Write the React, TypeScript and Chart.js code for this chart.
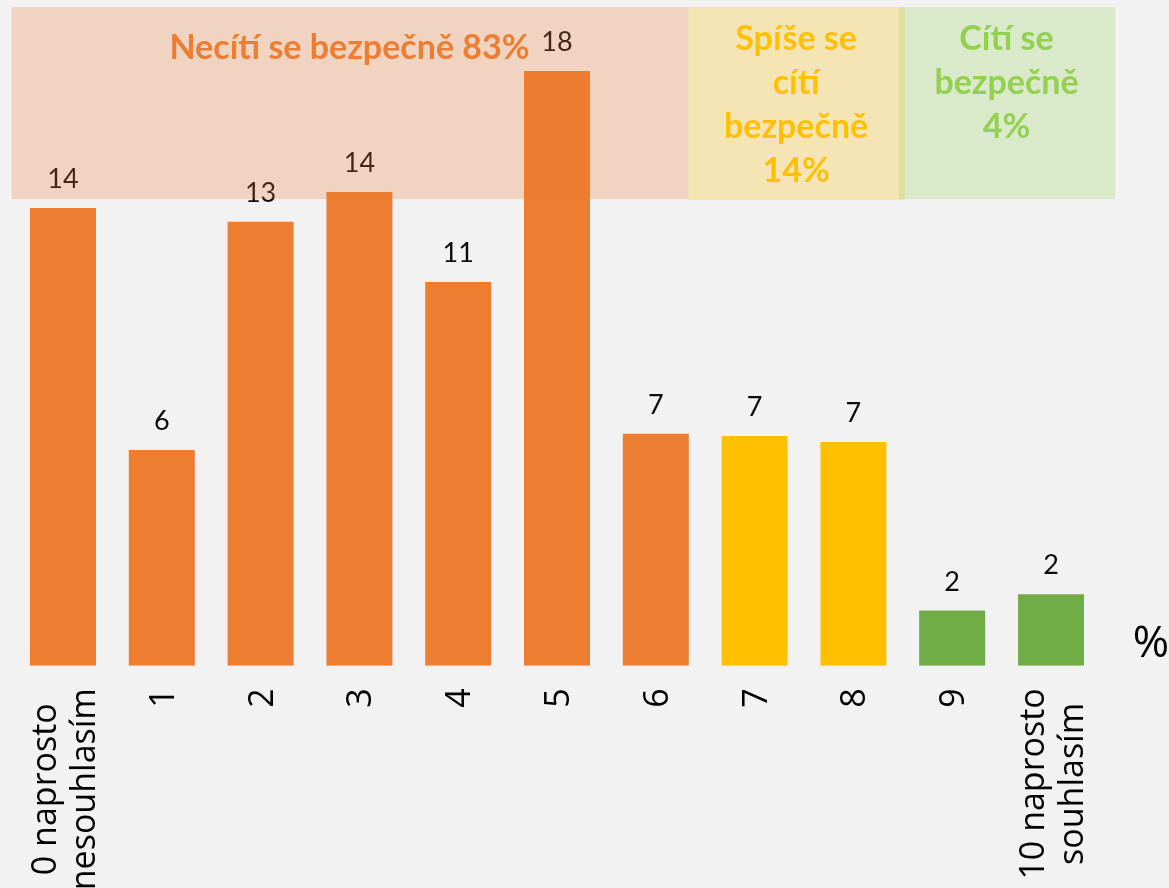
import React, { useEffect, useRef } from "react";
import { Chart, registerables } from "chart.js";

Chart.register(...registerables);

// ---- data ----
const categories: (string | string[])[] = [
  ["0 naprosto", "nesouhlasím"],
  "1",
  "2",
  "3",
  "4",
  "5",
  "6",
  "7",
  "8",
  "9",
  ["10 naprosto", "souhlasím"],
];
const values = [13.62, 6.42, 13.21, 14.1, 11.42, 17.7, 6.9, 6.84, 6.66, 1.64, 2.13];
const valueLabels = ["14", "6", "13", "14", "11", "18", "7", "7", "7", "2", "2"];
const groups = ["neg", "neg", "neg", "neg", "neg", "neg", "neg", "mid", "mid", "pos", "pos"];
const negTitle = ["Necítí se bezpečně 83%"];
const midTitle = ["Spíše se", "cítí", "bezpečně", "14%"];
const posTitle = ["Cítí se", "bezpečně", "4%"];
const unitLabel = "%";

const barColors: Record<string, string> = {
  neg: "#ED7D31",
  mid: "#FFC000",
  pos: "#70AD47",
};

const overlayPlugin = {
  id: "overlay",
  afterDatasetsDraw(chart: any) {
    const ctx = chart.ctx;
    const meta = chart.getDatasetMeta(0);
    ctx.save();
    ctx.font = "27px Lato";
    ctx.fillStyle = "#0d0d0d";
    ctx.textAlign = "center";
    ctx.textBaseline = "alphabetic";
    meta.data.forEach((bar: any, i: number) => {
      ctx.fillText(valueLabels[i], bar.x, bar.y - 20);
    });
    ctx.restore();
  },
  afterDraw(chart: any) {
    const ctx = chart.ctx;
    const xs = chart.scales.x;
    const px = (v: number) =>
      xs.getPixelForValue(0) + v * (xs.getPixelForValue(1) - xs.getPixelForValue(0));

    // category labels (rotated, lines centred within a block that ends near the axis)
    ctx.save();
    ctx.font = "34px 'Open Sans'";
    ctx.fillStyle = "#000";
    ctx.textAlign = "center";
    ctx.textBaseline = "alphabetic";
    const axisY = chart.chartArea.bottom + 22.5;
    categories.forEach((lab, i) => {
      const lines = Array.isArray(lab) ? lab : [lab];
      const maxW = Math.max(...lines.map((l) => ctx.measureText(l).width));
      const yc = axisY + maxW / 2;
      const cx = xs.getPixelForValue(i);
      lines.forEach((l, j) => {
        const bx = cx + 12 + (j - (lines.length - 1) / 2) * 39;
        ctx.save();
        ctx.translate(bx, yc);
        ctx.rotate(-Math.PI / 2);
        ctx.fillText(l, 0, 0);
        ctx.restore();
      });
    });
    ctx.restore();

    const top = chart.chartArea.top - 3.5;
    const bottom = 199;
    ctx.save();
    ctx.globalAlpha = 0.25;
    ctx.fillStyle = "#ED7D31";
    ctx.fillRect(px(-0.52), top, px(6.33) - px(-0.52), bottom - top);
    ctx.fillStyle = "#FFC000";
    ctx.fillRect(px(6.33), top, px(8.52) - px(6.33), bottom + 1 - top);
    ctx.fillStyle = "#92D050";
    ctx.fillRect(px(8.46), top, px(10.65) - px(8.46), bottom - top);
    ctx.globalAlpha = 1;

    ctx.font = "bold 34px Lato";
    ctx.textAlign = "center";
    ctx.textBaseline = "alphabetic";
    ctx.fillStyle = "#ED7D31";
    negTitle.forEach((t, i) => ctx.fillText(t, px(2.9), 59 + i * 44));
    ctx.fillStyle = "#FFC000";
    midTitle.forEach((t, i) => ctx.fillText(t, px(7.42), 50 + i * 44));
    ctx.fillStyle = "#92D050";
    posTitle.forEach((t, i) => ctx.fillText(t, px(9.55), 50 + i * 44));

    ctx.font = "44px 'Open Sans'";
    ctx.fillStyle = "#000";
    ctx.textBaseline = "middle";
    ctx.fillText(unitLabel, 1151, 644);
    ctx.restore();
  },
};

export default function App() {
  const ref = useRef<HTMLCanvasElement>(null);
  useEffect(() => {
    if (!ref.current) return;
    const chart = new Chart(ref.current, {
      type: "bar",
      data: {
        labels: categories,
        datasets: [
          {
            data: values,
            backgroundColor: groups.map((g) => barColors[g]),
            borderWidth: 0,
            categoryPercentage: 1,
            barPercentage: 0.668,
          },
        ],
      },
      options: {
        responsive: false,
        animation: false,
        events: [],
        layout: { padding: { left: 13.6, right: 68.6, top: 10.5, bottom: 0 } },
        plugins: {
          legend: { display: false },
          tooltip: { enabled: false },
        },
        scales: {
          x: {
            grid: { display: false, drawTicks: false },
            border: { display: false },
            ticks: { display: false },
            afterFit: (scale: any) => {
              scale.height = 222.3;
            },
          },
          y: {
            display: false,
            min: 0,
            max: 19.5,
          },
        },
      },
      plugins: [overlayPlugin],
    });
    return () => chart.destroy();
  }, []);
  return (
    <div
      style={{
        position: "absolute",
        left: 0,
        top: 0,
        width: 1169,
        height: 888,
        background: "#f2f2f2",
        overflow: "hidden",
      }}
    >
      <canvas ref={ref} width={1169} height={888} style={{ display: "block" }} />
    </div>
  );
}
